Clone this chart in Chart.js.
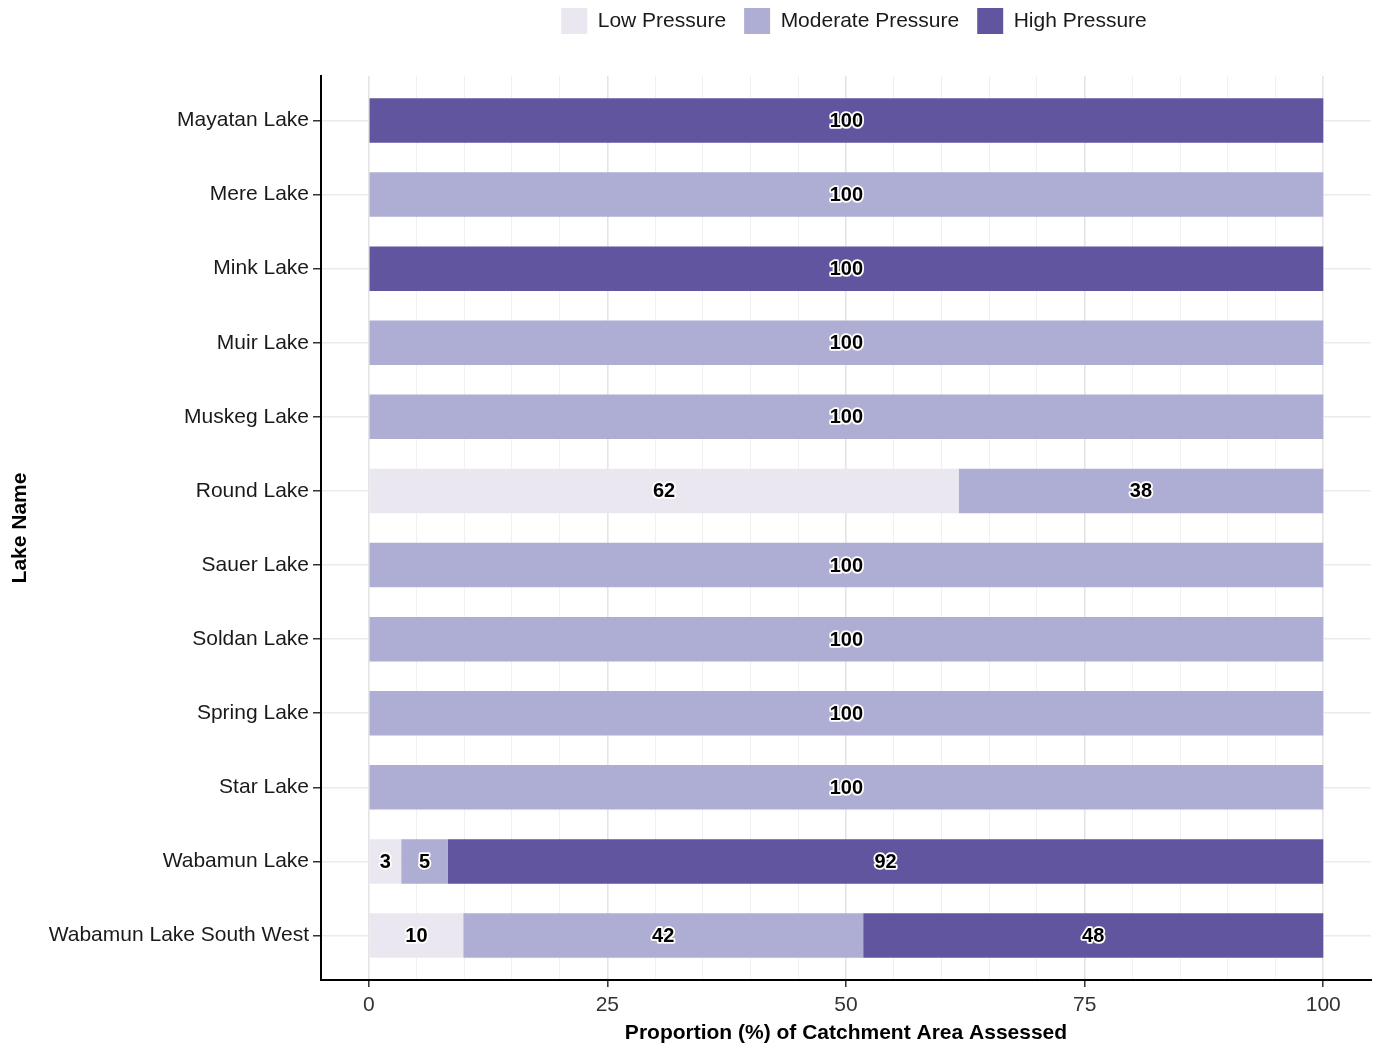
<!DOCTYPE html>
<html>
<head>
<meta charset="utf-8">
<script src="https://cdn.jsdelivr.net/npm/chart.js@4.4.1/dist/chart.umd.min.js"></script>
<style>
  body { margin: 0; background: #fff; }
</style>
</head>
<body>
<canvas id="pressureChart" width="1377" height="1048"></canvas>
<script>
const lakes = ['Mayatan Lake', 'Mere Lake', 'Mink Lake', 'Muir Lake', 'Muskeg Lake', 'Round Lake',
  'Sauer Lake', 'Soldan Lake', 'Spring Lake', 'Star Lake', 'Wabamun Lake', 'Wabamun Lake South West'];
const lowPressure      = [0, 0, 0, 0, 0, 61.8, 0, 0, 0, 0, 3.4, 9.9];
const moderatePressure = [0, 100, 0, 100, 100, 38.2, 100, 100, 100, 100, 4.9, 41.9];
const highPressure     = [100, 0, 100, 0, 0, 0, 0, 0, 0, 0, 91.7, 48.2];
const xTickLabels = [0, 25, 50, 75, 100];

const FONT = '"Liberation Sans", Arial, Helvetica, sans-serif';
const LEGEND_PAD = 18;

function toPoints(vals) {
  return vals.map((v, i) => ({ x: v, y: i }));
}

// white-halo value labels in the middle of each segment
const valueLabels = {
  id: 'valueLabels',
  afterLayout(chart) {
    // legend sits in the top padding, centred over the panel
    const lg = chart.legend, ca = chart.chartArea;
    const shift = lg.top + LEGEND_PAD - 8;
    lg.top -= shift; lg.bottom -= shift;
    lg.left = ca.left + 8; lg.right = ca.right + 8;
  },
  afterDatasetsDraw(chart) {
    const ctx = chart.ctx;
    ctx.save();
    ctx.font = 'bold 20px ' + FONT;
    ctx.textAlign = 'center';
    ctx.textBaseline = 'middle';
    ctx.lineWidth = 3.5;
    ctx.lineJoin = 'round';
    ctx.strokeStyle = '#ffffff';
    ctx.fillStyle = '#000000';
    chart.data.datasets.forEach((ds, i) => {
      chart.getDatasetMeta(i).data.forEach((bar, j) => {
        const v = ds.data[j].x;
        if (!v) return;
        const txt = String(Math.round(v));
        const x = (bar.x + bar.base) / 2;
        ctx.strokeText(txt, x, bar.y + 1);
        ctx.fillText(txt, x, bar.y + 1);
      });
    });
    ctx.restore();
  }
};

new Chart(document.getElementById('pressureChart'), {
  type: 'bar',
  data: {
    datasets: [
      { label: 'Low Pressure', data: toPoints(lowPressure), backgroundColor: '#ebe7f1' },
      { label: 'Moderate Pressure', data: toPoints(moderatePressure), backgroundColor: '#aeaed4' },
      { label: 'High Pressure', data: toPoints(highPressure), backgroundColor: '#6155a0' }
    ]
  },
  options: {
    responsive: false,
    animation: false,
    indexAxis: 'y',
    barPercentage: 0.6,
    categoryPercentage: 1,
    layout: { padding: { top: 22, left: 8, right: 6, bottom: 0 } },
    plugins: {
      tooltip: { enabled: false },
      legend: {
        position: 'top',
        labels: {
          boxWidth: 26,
          boxHeight: 26,
          padding: LEGEND_PAD,
          color: '#1a1a1a',
          font: { family: FONT, size: 21 }
        }
      }
    },
    scales: {
      x: {
        type: 'linear',
        stacked: true,
        min: -5,
        max: 105,
        border: { color: '#000', width: 2 },
        grid: {
          color: c => {
            const v = c.tick.value;
            if (v < 0 || v > 100) return 'rgba(0,0,0,0)';
            return v % 25 === 0 ? '#e4e4e4' : '#f0f0f0';
          },
          lineWidth: c => (c.tick.value % 25 === 0 ? 1.6 : 1),
          tickColor: c => (xTickLabels.includes(c.tick.value) ? '#333' : 'rgba(0,0,0,0)'),
          tickLength: 7,
          tickWidth: 1.5
        },
        ticks: {
          stepSize: 5,
          autoSkip: false,
          maxRotation: 0,
          padding: 6,
          color: '#333',
          font: { family: FONT, size: 21 },
          callback: v => (xTickLabels.includes(v) ? String(v) : '')
        },
        title: {
          display: true,
          text: 'Proportion (%) of Catchment Area Assessed',
          color: '#000',
          font: { family: FONT, size: 21, weight: 'bold' },
          padding: { top: 0, bottom: 2 }
        },
        afterFit: s => { s.height = 68; }
      },
      y: {
        type: 'linear',
        stacked: true,
        reverse: true,
        offset: false,
        min: -0.6,
        max: 11.6,
        bounds: 'data',
        border: { color: '#000', width: 2 },
        afterBuildTicks: s => { s.ticks = lakes.map((_, i) => ({ value: i })); },
        grid: {
          offset: false,
          color: '#ebebeb',
          lineWidth: 1.5,
          tickColor: '#333',
          tickLength: 8,
          tickWidth: 1.5
        },
        ticks: {
          autoSkip: false,
          padding: 4,
          color: '#1a1a1a',
          font: { family: FONT, size: 21 },
          callback: v => lakes[v]
        },
        title: {
          display: true,
          text: 'Lake Name',
          color: '#000',
          font: { family: FONT, size: 21, weight: 'bold' },
          padding: 0
        },
        afterFit: s => { s.width = 313; }
      }
    }
  },
  plugins: [valueLabels]
});
</script>
</body>
</html>
